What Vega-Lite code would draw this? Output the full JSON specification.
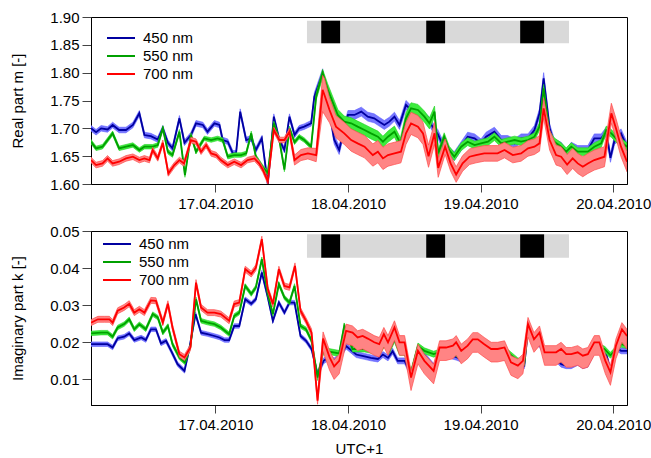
{
"$schema": "https://vega.github.io/schema/vega-lite/v6.json",
"padding": {"left": 10, "top": 9, "right": 0, "bottom": 0},
"spacing": 11,
"config": {
  "font": "Liberation Sans",
  "view": {"stroke": "#000", "strokeWidth": 1},
  "axis": {"grid": false, "labelFontSize": 15, "titleFontSize": 15, "titleFontWeight": "normal", "labelColor": "#000", "titleColor": "#000", "domainColor": "#000", "tickColor": "#444", "tickSize": 8},
  "axisX": {"labelPadding": 4, "titlePadding": 9},
  "axisY": {"labelPadding": 3, "titlePadding": 24, "tickSize": 9},
  "legend": {"title": null, "orient": "none", "symbolType": "M-2,0H2", "symbolSize": 196, "symbolStrokeWidth": 2, "labelFontSize": 15, "labelOffset": 14, "rowPadding": 2, "padding": 0, "labelColor": "#000"}
},
"resolve": {"scale": {"color": "independent"}, "legend": {"color": "independent"}},
"datasets": {
"bars": [
{"t":"2010-04-17T16:35","t2":"2010-04-19T16:00","kind":"period"},
{"t":"2010-04-17T19:10","t2":"2010-04-17T22:35","kind":"event"},
{"t":"2010-04-18T14:10","t2":"2010-04-18T17:35","kind":"event"},
{"t":"2010-04-19T07:10","t2":"2010-04-19T11:30","kind":"event"}
],
"m450": [
{"t":"2010-04-16T01:30","v":1.700,"lo":1.695,"hi":1.705},
{"t":"2010-04-16T02:25","v":1.693,"lo":1.688,"hi":1.698},
{"t":"2010-04-16T03:20","v":1.700,"lo":1.695,"hi":1.705},
{"t":"2010-04-16T04:30","v":1.698,"lo":1.693,"hi":1.703},
{"t":"2010-04-16T05:25","v":1.706,"lo":1.701,"hi":1.711},
{"t":"2010-04-16T06:35","v":1.697,"lo":1.692,"hi":1.702},
{"t":"2010-04-16T07:50","v":1.697,"lo":1.692,"hi":1.702},
{"t":"2010-04-16T09:05","v":1.706,"lo":1.701,"hi":1.711},
{"t":"2010-04-16T10:15","v":1.727,"lo":1.722,"hi":1.732},
{"t":"2010-04-16T11:10","v":1.688,"lo":1.683,"hi":1.693},
{"t":"2010-04-16T12:20","v":1.686,"lo":1.681,"hi":1.691},
{"t":"2010-04-16T13:35","v":1.680,"lo":1.675,"hi":1.685},
{"t":"2010-04-16T14:30","v":1.700,"lo":1.695,"hi":1.705},
{"t":"2010-04-16T15:25","v":1.674,"lo":1.669,"hi":1.679},
{"t":"2010-04-16T16:15","v":1.664,"lo":1.659,"hi":1.669},
{"t":"2010-04-16T17:30","v":1.718,"lo":1.713,"hi":1.723},
{"t":"2010-04-16T18:25","v":1.674,"lo":1.669,"hi":1.679},
{"t":"2010-04-16T19:35","v":1.688,"lo":1.683,"hi":1.693},
{"t":"2010-04-16T20:30","v":1.709,"lo":1.704,"hi":1.714},
{"t":"2010-04-16T21:45","v":1.706,"lo":1.701,"hi":1.711},
{"t":"2010-04-16T22:35","v":1.694,"lo":1.689,"hi":1.699},
{"t":"2010-04-16T23:50","v":1.709,"lo":1.704,"hi":1.714},
{"t":"2010-04-17T00:45","v":1.706,"lo":1.701,"hi":1.711},
{"t":"2010-04-17T01:20","v":1.679,"lo":1.674,"hi":1.684},
{"t":"2010-04-17T02:15","v":1.676,"lo":1.671,"hi":1.681},
{"t":"2010-04-17T03:10","v":1.655,"lo":1.650,"hi":1.660},
{"t":"2010-04-17T03:45","v":1.655,"lo":1.650,"hi":1.660},
{"t":"2010-04-17T04:30","v":1.730,"lo":1.725,"hi":1.735},
{"t":"2010-04-17T05:35","v":1.679,"lo":1.674,"hi":1.684},
{"t":"2010-04-17T06:30","v":1.682,"lo":1.677,"hi":1.687},
{"t":"2010-04-17T07:20","v":1.661,"lo":1.656,"hi":1.666},
{"t":"2010-04-17T08:25","v":1.682,"lo":1.677,"hi":1.687},
{"t":"2010-04-17T09:30","v":1.600,"lo":1.595,"hi":1.605},
{"t":"2010-04-17T10:35","v":1.721,"lo":1.716,"hi":1.726},
{"t":"2010-04-17T11:35","v":1.679,"lo":1.674,"hi":1.684},
{"t":"2010-04-17T12:30","v":1.661,"lo":1.656,"hi":1.666},
{"t":"2010-04-17T13:25","v":1.721,"lo":1.716,"hi":1.726},
{"t":"2010-04-17T14:20","v":1.688,"lo":1.683,"hi":1.693},
{"t":"2010-04-17T15:10","v":1.700,"lo":1.695,"hi":1.705},
{"t":"2010-04-17T16:05","v":1.703,"lo":1.698,"hi":1.708},
{"t":"2010-04-17T17:20","v":1.709,"lo":1.704,"hi":1.714},
{"t":"2010-04-17T17:55","v":1.757,"lo":1.750,"hi":1.764},
{"t":"2010-04-17T19:25","v":1.799,"lo":1.791,"hi":1.807},
{"t":"2010-04-17T20:20","v":1.750,"lo":1.742,"hi":1.758},
{"t":"2010-04-17T21:30","v":1.680,"lo":1.672,"hi":1.688},
{"t":"2010-04-17T22:25","v":1.661,"lo":1.653,"hi":1.669},
{"t":"2010-04-17T23:20","v":1.700,"lo":1.692,"hi":1.708},
{"t":"2010-04-18T00:00","v":1.724,"lo":1.716,"hi":1.732},
{"t":"2010-04-18T01:10","v":1.724,"lo":1.716,"hi":1.732},
{"t":"2010-04-18T02:25","v":1.730,"lo":1.722,"hi":1.738},
{"t":"2010-04-18T03:35","v":1.721,"lo":1.713,"hi":1.729},
{"t":"2010-04-18T04:45","v":1.718,"lo":1.710,"hi":1.726},
{"t":"2010-04-18T05:40","v":1.712,"lo":1.704,"hi":1.720},
{"t":"2010-04-18T06:35","v":1.706,"lo":1.698,"hi":1.714},
{"t":"2010-04-18T07:30","v":1.712,"lo":1.704,"hi":1.720},
{"t":"2010-04-18T08:25","v":1.721,"lo":1.713,"hi":1.729},
{"t":"2010-04-18T09:20","v":1.706,"lo":1.698,"hi":1.714},
{"t":"2010-04-18T10:30","v":1.742,"lo":1.734,"hi":1.750},
{"t":"2010-04-18T11:25","v":1.733,"lo":1.725,"hi":1.741},
{"t":"2010-04-18T12:40","v":1.730,"lo":1.722,"hi":1.738},
{"t":"2010-04-18T13:50","v":1.721,"lo":1.713,"hi":1.729},
{"t":"2010-04-18T14:45","v":1.712,"lo":1.704,"hi":1.720},
{"t":"2010-04-18T15:40","v":1.697,"lo":1.689,"hi":1.705},
{"t":"2010-04-18T16:15","v":1.690,"lo":1.682,"hi":1.698},
{"t":"2010-04-18T17:25","v":1.665,"lo":1.657,"hi":1.673},
{"t":"2010-04-18T19:15","v":1.650,"lo":1.642,"hi":1.658},
{"t":"2010-04-18T21:40","v":1.685,"lo":1.677,"hi":1.693},
{"t":"2010-04-18T22:55","v":1.682,"lo":1.674,"hi":1.690},
{"t":"2010-04-19T00:05","v":1.673,"lo":1.665,"hi":1.681},
{"t":"2010-04-19T01:00","v":1.685,"lo":1.677,"hi":1.693},
{"t":"2010-04-19T02:30","v":1.694,"lo":1.686,"hi":1.702},
{"t":"2010-04-19T03:45","v":1.679,"lo":1.671,"hi":1.687},
{"t":"2010-04-19T04:55","v":1.679,"lo":1.671,"hi":1.687},
{"t":"2010-04-19T06:10","v":1.673,"lo":1.665,"hi":1.681},
{"t":"2010-04-19T07:20","v":1.682,"lo":1.674,"hi":1.690},
{"t":"2010-04-19T08:35","v":1.682,"lo":1.674,"hi":1.690},
{"t":"2010-04-19T09:45","v":1.697,"lo":1.689,"hi":1.705},
{"t":"2010-04-19T10:40","v":1.727,"lo":1.719,"hi":1.735},
{"t":"2010-04-19T11:25","v":1.790,"lo":1.780,"hi":1.800},
{"t":"2010-04-19T12:30","v":1.700,"lo":1.692,"hi":1.708},
{"t":"2010-04-19T13:20","v":1.673,"lo":1.665,"hi":1.681},
{"t":"2010-04-19T14:35","v":1.667,"lo":1.659,"hi":1.675},
{"t":"2010-04-19T15:30","v":1.655,"lo":1.647,"hi":1.663},
{"t":"2010-04-19T16:25","v":1.667,"lo":1.659,"hi":1.675},
{"t":"2010-04-19T17:35","v":1.661,"lo":1.653,"hi":1.669},
{"t":"2010-04-19T19:25","v":1.661,"lo":1.653,"hi":1.669},
{"t":"2010-04-19T20:35","v":1.682,"lo":1.674,"hi":1.690},
{"t":"2010-04-19T21:50","v":1.682,"lo":1.674,"hi":1.690},
{"t":"2010-04-19T22:45","v":1.694,"lo":1.686,"hi":1.702},
{"t":"2010-04-19T23:30","v":1.647,"lo":1.639,"hi":1.655},
{"t":"2010-04-20T00:15","v":1.679,"lo":1.671,"hi":1.687},
{"t":"2010-04-20T01:25","v":1.691,"lo":1.683,"hi":1.699},
{"t":"2010-04-20T02:30","v":1.667,"lo":1.659,"hi":1.675}
],
"m550": [
{"t":"2010-04-16T01:30","v":1.676,"lo":1.672,"hi":1.680},
{"t":"2010-04-16T02:25","v":1.664,"lo":1.660,"hi":1.668},
{"t":"2010-04-16T03:35","v":1.667,"lo":1.663,"hi":1.671},
{"t":"2010-04-16T05:25","v":1.691,"lo":1.687,"hi":1.695},
{"t":"2010-04-16T06:35","v":1.664,"lo":1.660,"hi":1.668},
{"t":"2010-04-16T07:50","v":1.667,"lo":1.663,"hi":1.671},
{"t":"2010-04-16T09:05","v":1.670,"lo":1.666,"hi":1.674},
{"t":"2010-04-16T10:15","v":1.661,"lo":1.657,"hi":1.665},
{"t":"2010-04-16T11:10","v":1.667,"lo":1.663,"hi":1.671},
{"t":"2010-04-16T12:40","v":1.667,"lo":1.663,"hi":1.671},
{"t":"2010-04-16T13:35","v":1.670,"lo":1.666,"hi":1.674},
{"t":"2010-04-16T14:30","v":1.700,"lo":1.696,"hi":1.704},
{"t":"2010-04-16T15:25","v":1.658,"lo":1.654,"hi":1.662},
{"t":"2010-04-16T16:15","v":1.652,"lo":1.648,"hi":1.656},
{"t":"2010-04-16T17:30","v":1.694,"lo":1.690,"hi":1.698},
{"t":"2010-04-16T18:30","v":1.616,"lo":1.612,"hi":1.620},
{"t":"2010-04-16T19:35","v":1.688,"lo":1.684,"hi":1.692},
{"t":"2010-04-16T20:30","v":1.658,"lo":1.654,"hi":1.662},
{"t":"2010-04-16T22:00","v":1.682,"lo":1.678,"hi":1.686},
{"t":"2010-04-16T23:15","v":1.679,"lo":1.675,"hi":1.683},
{"t":"2010-04-17T00:25","v":1.682,"lo":1.678,"hi":1.686},
{"t":"2010-04-17T01:20","v":1.679,"lo":1.675,"hi":1.683},
{"t":"2010-04-17T02:15","v":1.649,"lo":1.645,"hi":1.653},
{"t":"2010-04-17T03:25","v":1.652,"lo":1.648,"hi":1.656},
{"t":"2010-04-17T04:40","v":1.652,"lo":1.648,"hi":1.656},
{"t":"2010-04-17T05:35","v":1.655,"lo":1.651,"hi":1.659},
{"t":"2010-04-17T06:30","v":1.691,"lo":1.687,"hi":1.695},
{"t":"2010-04-17T07:20","v":1.649,"lo":1.645,"hi":1.653},
{"t":"2010-04-17T08:35","v":1.630,"lo":1.626,"hi":1.634},
{"t":"2010-04-17T09:30","v":1.620,"lo":1.616,"hi":1.624},
{"t":"2010-04-17T10:35","v":1.709,"lo":1.705,"hi":1.713},
{"t":"2010-04-17T11:35","v":1.679,"lo":1.675,"hi":1.683},
{"t":"2010-04-17T12:30","v":1.626,"lo":1.622,"hi":1.630},
{"t":"2010-04-17T13:25","v":1.700,"lo":1.696,"hi":1.704},
{"t":"2010-04-17T14:20","v":1.675,"lo":1.671,"hi":1.679},
{"t":"2010-04-17T15:10","v":1.685,"lo":1.681,"hi":1.689},
{"t":"2010-04-17T16:05","v":1.679,"lo":1.675,"hi":1.683},
{"t":"2010-04-17T17:20","v":1.667,"lo":1.663,"hi":1.671},
{"t":"2010-04-17T18:15","v":1.757,"lo":1.751,"hi":1.763},
{"t":"2010-04-17T19:25","v":1.800,"lo":1.790,"hi":1.806},
{"t":"2010-04-17T20:20","v":1.770,"lo":1.760,"hi":1.780},
{"t":"2010-04-17T22:10","v":1.724,"lo":1.714,"hi":1.734},
{"t":"2010-04-17T23:20","v":1.712,"lo":1.702,"hi":1.722},
{"t":"2010-04-18T00:35","v":1.709,"lo":1.699,"hi":1.719},
{"t":"2010-04-18T01:45","v":1.703,"lo":1.693,"hi":1.713},
{"t":"2010-04-18T03:00","v":1.697,"lo":1.687,"hi":1.707},
{"t":"2010-04-18T04:10","v":1.691,"lo":1.681,"hi":1.701},
{"t":"2010-04-18T05:25","v":1.685,"lo":1.675,"hi":1.695},
{"t":"2010-04-18T06:20","v":1.676,"lo":1.666,"hi":1.686},
{"t":"2010-04-18T07:15","v":1.685,"lo":1.675,"hi":1.695},
{"t":"2010-04-18T08:25","v":1.694,"lo":1.684,"hi":1.704},
{"t":"2010-04-18T09:30","v":1.673,"lo":1.663,"hi":1.683},
{"t":"2010-04-18T10:30","v":1.718,"lo":1.708,"hi":1.728},
{"t":"2010-04-18T11:25","v":1.736,"lo":1.726,"hi":1.746},
{"t":"2010-04-18T12:40","v":1.733,"lo":1.723,"hi":1.743},
{"t":"2010-04-18T13:50","v":1.721,"lo":1.711,"hi":1.731},
{"t":"2010-04-18T14:45","v":1.709,"lo":1.699,"hi":1.719},
{"t":"2010-04-18T15:40","v":1.730,"lo":1.720,"hi":1.740},
{"t":"2010-04-18T16:20","v":1.655,"lo":1.648,"hi":1.662},
{"t":"2010-04-18T17:25","v":1.685,"lo":1.678,"hi":1.692},
{"t":"2010-04-18T18:20","v":1.661,"lo":1.654,"hi":1.668},
{"t":"2010-04-18T19:15","v":1.649,"lo":1.642,"hi":1.656},
{"t":"2010-04-18T20:30","v":1.667,"lo":1.660,"hi":1.674},
{"t":"2010-04-18T21:40","v":1.676,"lo":1.669,"hi":1.683},
{"t":"2010-04-18T22:55","v":1.670,"lo":1.663,"hi":1.677},
{"t":"2010-04-19T00:05","v":1.673,"lo":1.666,"hi":1.680},
{"t":"2010-04-19T01:20","v":1.676,"lo":1.669,"hi":1.683},
{"t":"2010-04-19T02:30","v":1.685,"lo":1.678,"hi":1.692},
{"t":"2010-04-19T03:45","v":1.673,"lo":1.666,"hi":1.680},
{"t":"2010-04-19T04:55","v":1.676,"lo":1.669,"hi":1.683},
{"t":"2010-04-19T06:10","v":1.679,"lo":1.672,"hi":1.686},
{"t":"2010-04-19T07:20","v":1.676,"lo":1.669,"hi":1.683},
{"t":"2010-04-19T08:35","v":1.679,"lo":1.672,"hi":1.686},
{"t":"2010-04-19T09:45","v":1.685,"lo":1.678,"hi":1.692},
{"t":"2010-04-19T10:40","v":1.703,"lo":1.696,"hi":1.710},
{"t":"2010-04-19T11:25","v":1.772,"lo":1.765,"hi":1.779},
{"t":"2010-04-19T12:30","v":1.688,"lo":1.681,"hi":1.695},
{"t":"2010-04-19T13:20","v":1.676,"lo":1.669,"hi":1.683},
{"t":"2010-04-19T14:35","v":1.667,"lo":1.660,"hi":1.674},
{"t":"2010-04-19T15:30","v":1.658,"lo":1.651,"hi":1.665},
{"t":"2010-04-19T16:25","v":1.667,"lo":1.660,"hi":1.674},
{"t":"2010-04-19T17:35","v":1.658,"lo":1.651,"hi":1.665},
{"t":"2010-04-19T19:25","v":1.658,"lo":1.651,"hi":1.665},
{"t":"2010-04-19T20:35","v":1.667,"lo":1.660,"hi":1.674},
{"t":"2010-04-19T21:50","v":1.673,"lo":1.666,"hi":1.680},
{"t":"2010-04-19T22:45","v":1.697,"lo":1.690,"hi":1.704},
{"t":"2010-04-19T23:40","v":1.691,"lo":1.684,"hi":1.698},
{"t":"2010-04-20T00:30","v":1.682,"lo":1.675,"hi":1.689},
{"t":"2010-04-20T02:30","v":1.667,"lo":1.660,"hi":1.674}
],
"m700": [
{"t":"2010-04-16T01:30","v":1.643,"lo":1.638,"hi":1.648},
{"t":"2010-04-16T02:25","v":1.634,"lo":1.629,"hi":1.639},
{"t":"2010-04-16T03:35","v":1.637,"lo":1.632,"hi":1.642},
{"t":"2010-04-16T04:30","v":1.646,"lo":1.641,"hi":1.651},
{"t":"2010-04-16T05:25","v":1.637,"lo":1.632,"hi":1.642},
{"t":"2010-04-16T06:35","v":1.640,"lo":1.635,"hi":1.645},
{"t":"2010-04-16T07:50","v":1.646,"lo":1.641,"hi":1.651},
{"t":"2010-04-16T09:05","v":1.649,"lo":1.644,"hi":1.654},
{"t":"2010-04-16T10:15","v":1.643,"lo":1.638,"hi":1.648},
{"t":"2010-04-16T11:10","v":1.646,"lo":1.641,"hi":1.651},
{"t":"2010-04-16T12:05","v":1.643,"lo":1.638,"hi":1.648},
{"t":"2010-04-16T12:40","v":1.661,"lo":1.656,"hi":1.666},
{"t":"2010-04-16T13:35","v":1.646,"lo":1.641,"hi":1.651},
{"t":"2010-04-16T14:30","v":1.674,"lo":1.669,"hi":1.679},
{"t":"2010-04-16T15:30","v":1.619,"lo":1.614,"hi":1.624},
{"t":"2010-04-16T16:35","v":1.634,"lo":1.629,"hi":1.639},
{"t":"2010-04-16T17:30","v":1.643,"lo":1.638,"hi":1.648},
{"t":"2010-04-16T18:20","v":1.637,"lo":1.632,"hi":1.642},
{"t":"2010-04-16T19:35","v":1.679,"lo":1.674,"hi":1.684},
{"t":"2010-04-16T20:30","v":1.676,"lo":1.671,"hi":1.681},
{"t":"2010-04-16T21:25","v":1.658,"lo":1.653,"hi":1.663},
{"t":"2010-04-16T22:20","v":1.670,"lo":1.665,"hi":1.675},
{"t":"2010-04-16T23:15","v":1.655,"lo":1.650,"hi":1.660},
{"t":"2010-04-17T00:10","v":1.652,"lo":1.647,"hi":1.657},
{"t":"2010-04-17T01:00","v":1.643,"lo":1.638,"hi":1.648},
{"t":"2010-04-17T02:15","v":1.634,"lo":1.629,"hi":1.639},
{"t":"2010-04-17T03:25","v":1.640,"lo":1.635,"hi":1.645},
{"t":"2010-04-17T04:40","v":1.634,"lo":1.629,"hi":1.639},
{"t":"2010-04-17T05:50","v":1.643,"lo":1.638,"hi":1.648},
{"t":"2010-04-17T07:05","v":1.646,"lo":1.641,"hi":1.651},
{"t":"2010-04-17T07:55","v":1.637,"lo":1.632,"hi":1.642},
{"t":"2010-04-17T08:35","v":1.626,"lo":1.621,"hi":1.631},
{"t":"2010-04-17T09:30","v":1.605,"lo":1.600,"hi":1.610},
{"t":"2010-04-17T10:35","v":1.697,"lo":1.692,"hi":1.702},
{"t":"2010-04-17T11:35","v":1.679,"lo":1.674,"hi":1.684},
{"t":"2010-04-17T12:30","v":1.679,"lo":1.674,"hi":1.684},
{"t":"2010-04-17T13:25","v":1.694,"lo":1.688,"hi":1.700},
{"t":"2010-04-17T14:20","v":1.643,"lo":1.634,"hi":1.652},
{"t":"2010-04-17T15:30","v":1.652,"lo":1.642,"hi":1.662},
{"t":"2010-04-17T16:45","v":1.655,"lo":1.645,"hi":1.665},
{"t":"2010-04-17T18:15","v":1.652,"lo":1.640,"hi":1.664},
{"t":"2010-04-17T19:25","v":1.769,"lo":1.730,"hi":1.795},
{"t":"2010-04-17T19:45","v":1.760,"lo":1.725,"hi":1.790},
{"t":"2010-04-17T20:40","v":1.733,"lo":1.710,"hi":1.755},
{"t":"2010-04-17T21:50","v":1.703,"lo":1.683,"hi":1.723},
{"t":"2010-04-17T23:20","v":1.691,"lo":1.671,"hi":1.711},
{"t":"2010-04-18T00:35","v":1.679,"lo":1.659,"hi":1.699},
{"t":"2010-04-18T01:45","v":1.673,"lo":1.653,"hi":1.693},
{"t":"2010-04-18T03:00","v":1.667,"lo":1.647,"hi":1.687},
{"t":"2010-04-18T04:30","v":1.652,"lo":1.632,"hi":1.672},
{"t":"2010-04-18T05:25","v":1.658,"lo":1.638,"hi":1.678},
{"t":"2010-04-18T06:20","v":1.646,"lo":1.626,"hi":1.666},
{"t":"2010-04-18T07:15","v":1.652,"lo":1.632,"hi":1.672},
{"t":"2010-04-18T08:25","v":1.655,"lo":1.635,"hi":1.675},
{"t":"2010-04-18T09:35","v":1.658,"lo":1.638,"hi":1.678},
{"t":"2010-04-18T10:30","v":1.691,"lo":1.671,"hi":1.711},
{"t":"2010-04-18T11:25","v":1.709,"lo":1.689,"hi":1.729},
{"t":"2010-04-18T12:40","v":1.703,"lo":1.683,"hi":1.723},
{"t":"2010-04-18T13:35","v":1.691,"lo":1.671,"hi":1.711},
{"t":"2010-04-18T14:35","v":1.650,"lo":1.630,"hi":1.670},
{"t":"2010-04-18T15:40","v":1.691,"lo":1.671,"hi":1.711},
{"t":"2010-04-18T16:20","v":1.629,"lo":1.612,"hi":1.646},
{"t":"2010-04-18T17:35","v":1.667,"lo":1.653,"hi":1.681},
{"t":"2010-04-18T18:35","v":1.637,"lo":1.623,"hi":1.651},
{"t":"2010-04-18T19:35","v":1.617,"lo":1.603,"hi":1.631},
{"t":"2010-04-18T20:45","v":1.637,"lo":1.623,"hi":1.651},
{"t":"2010-04-18T22:00","v":1.649,"lo":1.635,"hi":1.663},
{"t":"2010-04-18T23:10","v":1.652,"lo":1.638,"hi":1.666},
{"t":"2010-04-19T00:40","v":1.655,"lo":1.641,"hi":1.669},
{"t":"2010-04-19T01:55","v":1.655,"lo":1.641,"hi":1.669},
{"t":"2010-04-19T03:05","v":1.655,"lo":1.641,"hi":1.669},
{"t":"2010-04-19T04:20","v":1.661,"lo":1.647,"hi":1.675},
{"t":"2010-04-19T05:50","v":1.652,"lo":1.638,"hi":1.666},
{"t":"2010-04-19T07:20","v":1.655,"lo":1.641,"hi":1.669},
{"t":"2010-04-19T08:35","v":1.664,"lo":1.650,"hi":1.678},
{"t":"2010-04-19T09:45","v":1.667,"lo":1.653,"hi":1.681},
{"t":"2010-04-19T10:40","v":1.673,"lo":1.659,"hi":1.687},
{"t":"2010-04-19T11:25","v":1.736,"lo":1.718,"hi":1.754},
{"t":"2010-04-19T12:30","v":1.679,"lo":1.661,"hi":1.697},
{"t":"2010-04-19T13:40","v":1.652,"lo":1.634,"hi":1.670},
{"t":"2010-04-19T14:35","v":1.649,"lo":1.631,"hi":1.667},
{"t":"2010-04-19T15:40","v":1.635,"lo":1.617,"hi":1.653},
{"t":"2010-04-19T16:40","v":1.646,"lo":1.628,"hi":1.664},
{"t":"2010-04-19T17:35","v":1.637,"lo":1.619,"hi":1.655},
{"t":"2010-04-19T18:30","v":1.631,"lo":1.613,"hi":1.649},
{"t":"2010-04-19T19:25","v":1.637,"lo":1.619,"hi":1.655},
{"t":"2010-04-19T20:35","v":1.643,"lo":1.625,"hi":1.661},
{"t":"2010-04-19T22:25","v":1.649,"lo":1.631,"hi":1.667},
{"t":"2010-04-19T23:40","v":1.727,"lo":1.709,"hi":1.745},
{"t":"2010-04-20T00:30","v":1.700,"lo":1.682,"hi":1.718},
{"t":"2010-04-20T01:25","v":1.667,"lo":1.649,"hi":1.685},
{"t":"2010-04-20T02:30","v":1.640,"lo":1.622,"hi":1.658}
],
"k450": [
{"t":"2010-04-16T01:30","v":0.0195,"lo":0.0189,"hi":0.0201},
{"t":"2010-04-16T03:20","v":0.0195,"lo":0.0189,"hi":0.0201},
{"t":"2010-04-16T04:30","v":0.0195,"lo":0.0189,"hi":0.0201},
{"t":"2010-04-16T05:25","v":0.0186,"lo":0.0180,"hi":0.0192},
{"t":"2010-04-16T06:20","v":0.0211,"lo":0.0205,"hi":0.0217},
{"t":"2010-04-16T07:30","v":0.0215,"lo":0.0209,"hi":0.0221},
{"t":"2010-04-16T08:25","v":0.0224,"lo":0.0218,"hi":0.0230},
{"t":"2010-04-16T09:20","v":0.0206,"lo":0.0200,"hi":0.0212},
{"t":"2010-04-16T10:35","v":0.0213,"lo":0.0207,"hi":0.0219},
{"t":"2010-04-16T11:25","v":0.0206,"lo":0.0200,"hi":0.0212},
{"t":"2010-04-16T12:20","v":0.0235,"lo":0.0229,"hi":0.0241},
{"t":"2010-04-16T13:15","v":0.0235,"lo":0.0229,"hi":0.0241},
{"t":"2010-04-16T14:10","v":0.0197,"lo":0.0191,"hi":0.0203},
{"t":"2010-04-16T15:05","v":0.0204,"lo":0.0198,"hi":0.0210},
{"t":"2010-04-16T16:00","v":0.0177,"lo":0.0171,"hi":0.0183},
{"t":"2010-04-16T17:10","v":0.0141,"lo":0.0135,"hi":0.0147},
{"t":"2010-04-16T18:25","v":0.0123,"lo":0.0117,"hi":0.0129},
{"t":"2010-04-16T19:20","v":0.0186,"lo":0.0180,"hi":0.0192},
{"t":"2010-04-16T20:25","v":0.0276,"lo":0.0270,"hi":0.0282},
{"t":"2010-04-16T21:25","v":0.0226,"lo":0.0220,"hi":0.0232},
{"t":"2010-04-16T22:35","v":0.0222,"lo":0.0216,"hi":0.0228},
{"t":"2010-04-16T23:50","v":0.0217,"lo":0.0211,"hi":0.0223},
{"t":"2010-04-17T00:45","v":0.0213,"lo":0.0207,"hi":0.0219},
{"t":"2010-04-17T01:40","v":0.0206,"lo":0.0200,"hi":0.0212},
{"t":"2010-04-17T02:30","v":0.0206,"lo":0.0200,"hi":0.0212},
{"t":"2010-04-17T03:25","v":0.0244,"lo":0.0238,"hi":0.0250},
{"t":"2010-04-17T04:20","v":0.0244,"lo":0.0238,"hi":0.0250},
{"t":"2010-04-17T05:25","v":0.0316,"lo":0.0310,"hi":0.0322},
{"t":"2010-04-17T06:30","v":0.0304,"lo":0.0298,"hi":0.0310},
{"t":"2010-04-17T07:20","v":0.0316,"lo":0.0310,"hi":0.0322},
{"t":"2010-04-17T08:25","v":0.0388,"lo":0.0382,"hi":0.0394},
{"t":"2010-04-17T09:30","v":0.0321,"lo":0.0315,"hi":0.0327},
{"t":"2010-04-17T10:25","v":0.0258,"lo":0.0252,"hi":0.0264},
{"t":"2010-04-17T11:30","v":0.0307,"lo":0.0301,"hi":0.0313},
{"t":"2010-04-17T12:30","v":0.0280,"lo":0.0274,"hi":0.0286},
{"t":"2010-04-17T13:25","v":0.0307,"lo":0.0301,"hi":0.0313},
{"t":"2010-04-17T14:20","v":0.0307,"lo":0.0301,"hi":0.0313},
{"t":"2010-04-17T15:25","v":0.0217,"lo":0.0211,"hi":0.0223},
{"t":"2010-04-17T16:25","v":0.0204,"lo":0.0198,"hi":0.0210},
{"t":"2010-04-17T17:25","v":0.0182,"lo":0.0176,"hi":0.0188},
{"t":"2010-04-17T18:30","v":0.0114,"lo":0.0106,"hi":0.0122},
{"t":"2010-04-17T19:35","v":0.0150,"lo":0.0142,"hi":0.0158},
{"t":"2010-04-17T20:35","v":0.0160,"lo":0.0152,"hi":0.0168},
{"t":"2010-04-17T21:30","v":0.0150,"lo":0.0142,"hi":0.0158},
{"t":"2010-04-17T22:25","v":0.0160,"lo":0.0152,"hi":0.0168},
{"t":"2010-04-17T23:40","v":0.0190,"lo":0.0182,"hi":0.0198},
{"t":"2010-04-18T01:30","v":0.0167,"lo":0.0159,"hi":0.0175},
{"t":"2010-04-18T03:00","v":0.0162,"lo":0.0154,"hi":0.0170},
{"t":"2010-04-18T04:10","v":0.0158,"lo":0.0150,"hi":0.0166},
{"t":"2010-04-18T05:25","v":0.0155,"lo":0.0147,"hi":0.0163},
{"t":"2010-04-18T06:20","v":0.0167,"lo":0.0159,"hi":0.0175},
{"t":"2010-04-18T07:15","v":0.0158,"lo":0.0150,"hi":0.0166},
{"t":"2010-04-18T08:05","v":0.0176,"lo":0.0168,"hi":0.0184},
{"t":"2010-04-18T09:00","v":0.0150,"lo":0.0142,"hi":0.0158},
{"t":"2010-04-18T10:15","v":0.0150,"lo":0.0142,"hi":0.0158},
{"t":"2010-04-18T11:25","v":0.0114,"lo":0.0106,"hi":0.0122},
{"t":"2010-04-18T12:40","v":0.0180,"lo":0.0172,"hi":0.0188},
{"t":"2010-04-18T13:50","v":0.0165,"lo":0.0157,"hi":0.0173},
{"t":"2010-04-18T15:30","v":0.0135,"lo":0.0127,"hi":0.0143},
{"t":"2010-04-18T16:35","v":0.0164,"lo":0.0156,"hi":0.0172},
{"t":"2010-04-18T18:40","v":0.0164,"lo":0.0156,"hi":0.0172},
{"t":"2010-04-18T19:35","v":0.0160,"lo":0.0152,"hi":0.0168},
{"t":"2010-04-18T20:30","v":0.0155,"lo":0.0147,"hi":0.0163},
{"t":"2010-04-18T21:40","v":0.0185,"lo":0.0177,"hi":0.0193},
{"t":"2010-04-18T22:35","v":0.0195,"lo":0.0187,"hi":0.0203},
{"t":"2010-04-19T00:40","v":0.0180,"lo":0.0172,"hi":0.0188},
{"t":"2010-04-19T01:55","v":0.0160,"lo":0.0152,"hi":0.0168},
{"t":"2010-04-19T04:20","v":0.0160,"lo":0.0152,"hi":0.0168},
{"t":"2010-04-19T05:30","v":0.0160,"lo":0.0152,"hi":0.0168},
{"t":"2010-04-19T06:45","v":0.0146,"lo":0.0138,"hi":0.0154},
{"t":"2010-04-19T07:55","v":0.0137,"lo":0.0129,"hi":0.0145},
{"t":"2010-04-19T08:35","v":0.0235,"lo":0.0227,"hi":0.0243},
{"t":"2010-04-19T09:40","v":0.0200,"lo":0.0192,"hi":0.0208},
{"t":"2010-04-19T10:40","v":0.0195,"lo":0.0187,"hi":0.0203},
{"t":"2010-04-19T11:35","v":0.0170,"lo":0.0162,"hi":0.0178},
{"t":"2010-04-19T13:20","v":0.0159,"lo":0.0151,"hi":0.0167},
{"t":"2010-04-19T14:35","v":0.0141,"lo":0.0133,"hi":0.0149},
{"t":"2010-04-19T15:30","v":0.0137,"lo":0.0129,"hi":0.0145},
{"t":"2010-04-19T16:25","v":0.0137,"lo":0.0129,"hi":0.0145},
{"t":"2010-04-19T17:35","v":0.0146,"lo":0.0138,"hi":0.0154},
{"t":"2010-04-19T18:30","v":0.0137,"lo":0.0129,"hi":0.0145},
{"t":"2010-04-19T19:25","v":0.0141,"lo":0.0133,"hi":0.0149},
{"t":"2010-04-19T20:35","v":0.0177,"lo":0.0169,"hi":0.0185},
{"t":"2010-04-19T21:30","v":0.0177,"lo":0.0169,"hi":0.0185},
{"t":"2010-04-19T22:35","v":0.0177,"lo":0.0169,"hi":0.0185},
{"t":"2010-04-19T23:30","v":0.0125,"lo":0.0117,"hi":0.0133},
{"t":"2010-04-20T00:30","v":0.0186,"lo":0.0178,"hi":0.0194},
{"t":"2010-04-20T01:25","v":0.0177,"lo":0.0169,"hi":0.0185},
{"t":"2010-04-20T02:30","v":0.0177,"lo":0.0169,"hi":0.0185}
],
"k550": [
{"t":"2010-04-16T01:30","v":0.0224,"lo":0.0218,"hi":0.0230},
{"t":"2010-04-16T03:20","v":0.0226,"lo":0.0220,"hi":0.0232},
{"t":"2010-04-16T04:30","v":0.0226,"lo":0.0220,"hi":0.0232},
{"t":"2010-04-16T05:25","v":0.0215,"lo":0.0209,"hi":0.0221},
{"t":"2010-04-16T06:20","v":0.0240,"lo":0.0234,"hi":0.0246},
{"t":"2010-04-16T07:30","v":0.0249,"lo":0.0243,"hi":0.0255},
{"t":"2010-04-16T08:25","v":0.0262,"lo":0.0256,"hi":0.0268},
{"t":"2010-04-16T09:20","v":0.0235,"lo":0.0229,"hi":0.0241},
{"t":"2010-04-16T10:15","v":0.0249,"lo":0.0243,"hi":0.0255},
{"t":"2010-04-16T11:25","v":0.0235,"lo":0.0229,"hi":0.0241},
{"t":"2010-04-16T12:40","v":0.0276,"lo":0.0270,"hi":0.0282},
{"t":"2010-04-16T13:35","v":0.0267,"lo":0.0261,"hi":0.0273},
{"t":"2010-04-16T14:30","v":0.0226,"lo":0.0220,"hi":0.0232},
{"t":"2010-04-16T15:25","v":0.0244,"lo":0.0238,"hi":0.0250},
{"t":"2010-04-16T16:15","v":0.0195,"lo":0.0189,"hi":0.0201},
{"t":"2010-04-16T17:30","v":0.0159,"lo":0.0153,"hi":0.0165},
{"t":"2010-04-16T18:30","v":0.0146,"lo":0.0140,"hi":0.0152},
{"t":"2010-04-16T19:30","v":0.0190,"lo":0.0184,"hi":0.0196},
{"t":"2010-04-16T20:30","v":0.0316,"lo":0.0310,"hi":0.0322},
{"t":"2010-04-16T21:25","v":0.0258,"lo":0.0252,"hi":0.0264},
{"t":"2010-04-16T22:35","v":0.0253,"lo":0.0247,"hi":0.0259},
{"t":"2010-04-16T23:50","v":0.0249,"lo":0.0243,"hi":0.0255},
{"t":"2010-04-17T01:00","v":0.0240,"lo":0.0234,"hi":0.0246},
{"t":"2010-04-17T02:30","v":0.0222,"lo":0.0216,"hi":0.0228},
{"t":"2010-04-17T03:25","v":0.0271,"lo":0.0265,"hi":0.0277},
{"t":"2010-04-17T04:20","v":0.0280,"lo":0.0274,"hi":0.0286},
{"t":"2010-04-17T05:25","v":0.0352,"lo":0.0346,"hi":0.0358},
{"t":"2010-04-17T06:30","v":0.0330,"lo":0.0324,"hi":0.0336},
{"t":"2010-04-17T07:20","v":0.0348,"lo":0.0342,"hi":0.0354},
{"t":"2010-04-17T08:25","v":0.0424,"lo":0.0418,"hi":0.0430},
{"t":"2010-04-17T09:30","v":0.0330,"lo":0.0324,"hi":0.0336},
{"t":"2010-04-17T10:25","v":0.0276,"lo":0.0270,"hi":0.0282},
{"t":"2010-04-17T11:30","v":0.0357,"lo":0.0351,"hi":0.0363},
{"t":"2010-04-17T12:30","v":0.0321,"lo":0.0315,"hi":0.0327},
{"t":"2010-04-17T13:25","v":0.0307,"lo":0.0301,"hi":0.0313},
{"t":"2010-04-17T14:20","v":0.0352,"lo":0.0346,"hi":0.0358},
{"t":"2010-04-17T15:25","v":0.0244,"lo":0.0238,"hi":0.0250},
{"t":"2010-04-17T16:25","v":0.0235,"lo":0.0229,"hi":0.0241},
{"t":"2010-04-17T17:25","v":0.0204,"lo":0.0198,"hi":0.0210},
{"t":"2010-04-17T18:30","v":0.0105,"lo":0.0097,"hi":0.0113},
{"t":"2010-04-17T19:35","v":0.0180,"lo":0.0172,"hi":0.0188},
{"t":"2010-04-17T20:35","v":0.0175,"lo":0.0167,"hi":0.0183},
{"t":"2010-04-17T22:25","v":0.0170,"lo":0.0162,"hi":0.0178},
{"t":"2010-04-17T23:20","v":0.0244,"lo":0.0236,"hi":0.0252},
{"t":"2010-04-18T00:50","v":0.0182,"lo":0.0174,"hi":0.0190},
{"t":"2010-04-18T03:00","v":0.0182,"lo":0.0174,"hi":0.0190},
{"t":"2010-04-18T04:45","v":0.0177,"lo":0.0169,"hi":0.0185},
{"t":"2010-04-18T05:40","v":0.0173,"lo":0.0165,"hi":0.0181},
{"t":"2010-04-18T06:35","v":0.0195,"lo":0.0187,"hi":0.0203},
{"t":"2010-04-18T07:30","v":0.0177,"lo":0.0169,"hi":0.0185},
{"t":"2010-04-18T08:25","v":0.0208,"lo":0.0200,"hi":0.0216},
{"t":"2010-04-18T09:20","v":0.0173,"lo":0.0165,"hi":0.0181},
{"t":"2010-04-18T10:15","v":0.0173,"lo":0.0165,"hi":0.0181},
{"t":"2010-04-18T11:25","v":0.0118,"lo":0.0110,"hi":0.0126},
{"t":"2010-04-18T12:40","v":0.0190,"lo":0.0182,"hi":0.0198},
{"t":"2010-04-18T13:50","v":0.0177,"lo":0.0169,"hi":0.0185},
{"t":"2010-04-18T15:30","v":0.0168,"lo":0.0160,"hi":0.0176},
{"t":"2010-04-18T16:35","v":0.0173,"lo":0.0165,"hi":0.0181},
{"t":"2010-04-18T19:15","v":0.0173,"lo":0.0165,"hi":0.0181},
{"t":"2010-04-18T20:30","v":0.0160,"lo":0.0152,"hi":0.0168},
{"t":"2010-04-18T22:35","v":0.0195,"lo":0.0187,"hi":0.0203},
{"t":"2010-04-19T01:20","v":0.0182,"lo":0.0174,"hi":0.0190},
{"t":"2010-04-19T04:55","v":0.0173,"lo":0.0165,"hi":0.0181},
{"t":"2010-04-19T06:45","v":0.0150,"lo":0.0142,"hi":0.0158},
{"t":"2010-04-19T07:55","v":0.0145,"lo":0.0137,"hi":0.0153},
{"t":"2010-04-19T08:35","v":0.0240,"lo":0.0232,"hi":0.0248},
{"t":"2010-04-19T09:40","v":0.0205,"lo":0.0197,"hi":0.0213},
{"t":"2010-04-19T10:40","v":0.0220,"lo":0.0212,"hi":0.0228},
{"t":"2010-04-19T11:35","v":0.0170,"lo":0.0162,"hi":0.0178},
{"t":"2010-04-19T13:20","v":0.0155,"lo":0.0147,"hi":0.0163},
{"t":"2010-04-19T15:50","v":0.0155,"lo":0.0147,"hi":0.0163},
{"t":"2010-04-19T19:25","v":0.0150,"lo":0.0142,"hi":0.0158},
{"t":"2010-04-19T20:35","v":0.0190,"lo":0.0182,"hi":0.0198},
{"t":"2010-04-19T22:25","v":0.0182,"lo":0.0174,"hi":0.0190},
{"t":"2010-04-19T23:30","v":0.0165,"lo":0.0157,"hi":0.0173},
{"t":"2010-04-20T01:25","v":0.0195,"lo":0.0187,"hi":0.0203},
{"t":"2010-04-20T02:30","v":0.0191,"lo":0.0183,"hi":0.0199}
],
"k700": [
{"t":"2010-04-16T01:30","v":0.0253,"lo":0.0245,"hi":0.0261},
{"t":"2010-04-16T02:45","v":0.0262,"lo":0.0254,"hi":0.0270},
{"t":"2010-04-16T03:55","v":0.0262,"lo":0.0254,"hi":0.0270},
{"t":"2010-04-16T04:50","v":0.0262,"lo":0.0254,"hi":0.0270},
{"t":"2010-04-16T05:25","v":0.0253,"lo":0.0245,"hi":0.0261},
{"t":"2010-04-16T06:20","v":0.0285,"lo":0.0277,"hi":0.0293},
{"t":"2010-04-16T07:30","v":0.0294,"lo":0.0286,"hi":0.0302},
{"t":"2010-04-16T08:25","v":0.0304,"lo":0.0296,"hi":0.0312},
{"t":"2010-04-16T09:20","v":0.0280,"lo":0.0272,"hi":0.0288},
{"t":"2010-04-16T10:15","v":0.0289,"lo":0.0281,"hi":0.0297},
{"t":"2010-04-16T11:10","v":0.0280,"lo":0.0272,"hi":0.0288},
{"t":"2010-04-16T12:20","v":0.0313,"lo":0.0305,"hi":0.0321},
{"t":"2010-04-16T13:15","v":0.0312,"lo":0.0304,"hi":0.0320},
{"t":"2010-04-16T14:30","v":0.0253,"lo":0.0245,"hi":0.0261},
{"t":"2010-04-16T15:25","v":0.0304,"lo":0.0296,"hi":0.0312},
{"t":"2010-04-16T16:15","v":0.0240,"lo":0.0232,"hi":0.0248},
{"t":"2010-04-16T17:30","v":0.0168,"lo":0.0160,"hi":0.0176},
{"t":"2010-04-16T18:25","v":0.0159,"lo":0.0151,"hi":0.0167},
{"t":"2010-04-16T19:30","v":0.0186,"lo":0.0178,"hi":0.0194},
{"t":"2010-04-16T20:30","v":0.0361,"lo":0.0353,"hi":0.0369},
{"t":"2010-04-16T21:25","v":0.0294,"lo":0.0286,"hi":0.0302},
{"t":"2010-04-16T22:35","v":0.0280,"lo":0.0272,"hi":0.0288},
{"t":"2010-04-16T23:50","v":0.0280,"lo":0.0272,"hi":0.0288},
{"t":"2010-04-17T01:00","v":0.0276,"lo":0.0268,"hi":0.0284},
{"t":"2010-04-17T02:30","v":0.0258,"lo":0.0250,"hi":0.0266},
{"t":"2010-04-17T03:25","v":0.0303,"lo":0.0295,"hi":0.0311},
{"t":"2010-04-17T04:20","v":0.0307,"lo":0.0299,"hi":0.0315},
{"t":"2010-04-17T05:25","v":0.0397,"lo":0.0389,"hi":0.0405},
{"t":"2010-04-17T06:30","v":0.0384,"lo":0.0376,"hi":0.0392},
{"t":"2010-04-17T07:20","v":0.0401,"lo":0.0393,"hi":0.0409},
{"t":"2010-04-17T08:25","v":0.0478,"lo":0.0470,"hi":0.0486},
{"t":"2010-04-17T09:30","v":0.0343,"lo":0.0335,"hi":0.0351},
{"t":"2010-04-17T10:25","v":0.0303,"lo":0.0295,"hi":0.0311},
{"t":"2010-04-17T11:30","v":0.0397,"lo":0.0389,"hi":0.0405},
{"t":"2010-04-17T12:30","v":0.0352,"lo":0.0344,"hi":0.0360},
{"t":"2010-04-17T13:25","v":0.0348,"lo":0.0340,"hi":0.0356},
{"t":"2010-04-17T14:25","v":0.0406,"lo":0.0398,"hi":0.0414},
{"t":"2010-04-17T15:25","v":0.0285,"lo":0.0277,"hi":0.0293},
{"t":"2010-04-17T16:25","v":0.0258,"lo":0.0250,"hi":0.0266},
{"t":"2010-04-17T17:25","v":0.0226,"lo":0.0216,"hi":0.0236},
{"t":"2010-04-17T18:30","v":0.0043,"lo":0.0033,"hi":0.0055},
{"t":"2010-04-17T19:30","v":0.0210,"lo":0.0175,"hi":0.0228},
{"t":"2010-04-17T20:40","v":0.0160,"lo":0.0125,"hi":0.0178},
{"t":"2010-04-17T21:30","v":0.0135,"lo":0.0100,"hi":0.0153},
{"t":"2010-04-17T22:25","v":0.0150,"lo":0.0115,"hi":0.0168},
{"t":"2010-04-17T23:40","v":0.0231,"lo":0.0196,"hi":0.0249},
{"t":"2010-04-18T00:50","v":0.0226,"lo":0.0191,"hi":0.0244},
{"t":"2010-04-18T01:45","v":0.0213,"lo":0.0178,"hi":0.0231},
{"t":"2010-04-18T02:40","v":0.0217,"lo":0.0182,"hi":0.0235},
{"t":"2010-04-18T03:35","v":0.0210,"lo":0.0175,"hi":0.0228},
{"t":"2010-04-18T04:45","v":0.0200,"lo":0.0165,"hi":0.0218},
{"t":"2010-04-18T05:40","v":0.0195,"lo":0.0160,"hi":0.0213},
{"t":"2010-04-18T06:30","v":0.0222,"lo":0.0187,"hi":0.0240},
{"t":"2010-04-18T07:15","v":0.0200,"lo":0.0165,"hi":0.0218},
{"t":"2010-04-18T08:25","v":0.0240,"lo":0.0205,"hi":0.0258},
{"t":"2010-04-18T09:20","v":0.0200,"lo":0.0165,"hi":0.0218},
{"t":"2010-04-18T10:15","v":0.0200,"lo":0.0165,"hi":0.0218},
{"t":"2010-04-18T11:25","v":0.0105,"lo":0.0070,"hi":0.0123},
{"t":"2010-04-18T12:40","v":0.0177,"lo":0.0142,"hi":0.0195},
{"t":"2010-04-18T13:50","v":0.0150,"lo":0.0115,"hi":0.0168},
{"t":"2010-04-18T15:30","v":0.0123,"lo":0.0088,"hi":0.0141},
{"t":"2010-04-18T16:35","v":0.0186,"lo":0.0151,"hi":0.0204},
{"t":"2010-04-18T17:45","v":0.0186,"lo":0.0151,"hi":0.0204},
{"t":"2010-04-18T19:00","v":0.0191,"lo":0.0156,"hi":0.0209},
{"t":"2010-04-18T19:35","v":0.0200,"lo":0.0165,"hi":0.0218},
{"t":"2010-04-18T20:30","v":0.0177,"lo":0.0142,"hi":0.0195},
{"t":"2010-04-18T21:40","v":0.0191,"lo":0.0156,"hi":0.0209},
{"t":"2010-04-18T22:35","v":0.0208,"lo":0.0173,"hi":0.0226},
{"t":"2010-04-18T23:30","v":0.0208,"lo":0.0173,"hi":0.0226},
{"t":"2010-04-19T00:40","v":0.0195,"lo":0.0160,"hi":0.0213},
{"t":"2010-04-19T01:55","v":0.0182,"lo":0.0147,"hi":0.0200},
{"t":"2010-04-19T03:05","v":0.0182,"lo":0.0147,"hi":0.0200},
{"t":"2010-04-19T04:20","v":0.0186,"lo":0.0151,"hi":0.0204},
{"t":"2010-04-19T05:30","v":0.0146,"lo":0.0111,"hi":0.0164},
{"t":"2010-04-19T06:45","v":0.0137,"lo":0.0102,"hi":0.0155},
{"t":"2010-04-19T07:40","v":0.0150,"lo":0.0115,"hi":0.0168},
{"t":"2010-04-19T08:35","v":0.0249,"lo":0.0214,"hi":0.0267},
{"t":"2010-04-19T09:40","v":0.0208,"lo":0.0173,"hi":0.0226},
{"t":"2010-04-19T10:40","v":0.0226,"lo":0.0191,"hi":0.0244},
{"t":"2010-04-19T11:35","v":0.0173,"lo":0.0138,"hi":0.0191},
{"t":"2010-04-19T12:45","v":0.0173,"lo":0.0138,"hi":0.0191},
{"t":"2010-04-19T13:40","v":0.0173,"lo":0.0138,"hi":0.0191},
{"t":"2010-04-19T14:35","v":0.0182,"lo":0.0147,"hi":0.0200},
{"t":"2010-04-19T15:30","v":0.0168,"lo":0.0133,"hi":0.0186},
{"t":"2010-04-19T16:25","v":0.0168,"lo":0.0133,"hi":0.0186},
{"t":"2010-04-19T17:35","v":0.0173,"lo":0.0138,"hi":0.0191},
{"t":"2010-04-19T18:30","v":0.0164,"lo":0.0129,"hi":0.0182},
{"t":"2010-04-19T19:25","v":0.0168,"lo":0.0133,"hi":0.0186},
{"t":"2010-04-19T20:35","v":0.0200,"lo":0.0165,"hi":0.0218},
{"t":"2010-04-19T21:30","v":0.0200,"lo":0.0165,"hi":0.0218},
{"t":"2010-04-19T22:35","v":0.0150,"lo":0.0115,"hi":0.0168},
{"t":"2010-04-19T23:30","v":0.0119,"lo":0.0084,"hi":0.0137},
{"t":"2010-04-20T00:30","v":0.0191,"lo":0.0156,"hi":0.0209},
{"t":"2010-04-20T01:35","v":0.0235,"lo":0.0200,"hi":0.0253},
{"t":"2010-04-20T02:30","v":0.0217,"lo":0.0182,"hi":0.0235}
]
},
"vconcat": [
{
  "width": 536, "height": 167,
  "encoding": {
    "x": {"field": "t", "type": "temporal",
      "scale": {"domain": [{"year":2010,"month":4,"date":16,"hours":1,"minutes":30},{"year":2010,"month":4,"date":20,"hours":2,"minutes":30}]},
      "axis": {"title": null, "format": "%d.%m.%Y", "labelFlush": false, "labelOverlap": false,
        "values": [{"year":2010,"month":4,"date":17},{"year":2010,"month":4,"date":18},{"year":2010,"month":4,"date":19},{"year":2010,"month":4,"date":20}]}},
    "y": {"type": "quantitative", "scale": {"domain": [1.6, 1.9], "nice": false, "zero": false},
      "axis": {"title": "Real part m [-]", "values": [1.6,1.65,1.7,1.75,1.8,1.85,1.9], "format": ".2f"}}
  },
  "layer": [
    {"data": {"name": "bars"}, "mark": {"type": "rect"},
     "encoding": {"x2": {"field": "t2"},
       "y": {"datum": 1.8528, "type": "quantitative"},
       "y2": {"datum": 1.8934},
       "fill": {"field": "kind", "type": "nominal", "scale": {"domain": ["period","event"], "range": ["#d9d9d9","#000000"]}, "legend": null}}},
    {"data": {"name": "m450"}, "mark": {"type": "area", "clip": true, "color": "#7676ff", "stroke": "#5a5aff", "strokeWidth": 0.6},
     "encoding": {"y": {"field": "lo", "type": "quantitative"}, "y2": {"field": "hi"}}},
    {"data": {"name": "m450"}, "mark": {"type": "line", "clip": true, "strokeWidth": 1.8},
     "encoding": {"y": {"field": "v", "type": "quantitative"},
       "color": {"datum": "450 nm", "type": "nominal", "scale": {"domain": ["450 nm","550 nm","700 nm"], "range": ["#0000a0","#00a000","#ff0000"]},
         "legend": {"legendX": 22, "legendY": 13}}}},
    {"data": {"name": "m550"}, "mark": {"type": "area", "clip": true, "color": "#3cec3c", "stroke": "#20d020", "strokeWidth": 0.6},
     "encoding": {"y": {"field": "lo", "type": "quantitative"}, "y2": {"field": "hi"}}},
    {"data": {"name": "m550"}, "mark": {"type": "line", "clip": true, "strokeWidth": 1.8},
     "encoding": {"y": {"field": "v", "type": "quantitative"},
       "color": {"datum": "550 nm", "type": "nominal", "scale": {"domain": ["450 nm","550 nm","700 nm"], "range": ["#0000a0","#00a000","#ff0000"]},
         "legend": {"legendX": 22, "legendY": 13}}}},
    {"data": {"name": "m700"}, "mark": {"type": "area", "clip": true, "color": "#ff8484", "stroke": "#ff4a4a", "strokeWidth": 0.7},
     "encoding": {"y": {"field": "lo", "type": "quantitative"}, "y2": {"field": "hi"}}},
    {"data": {"name": "m700"}, "mark": {"type": "line", "clip": true, "strokeWidth": 1.8},
     "encoding": {"y": {"field": "v", "type": "quantitative"},
       "color": {"datum": "700 nm", "type": "nominal", "scale": {"domain": ["450 nm","550 nm","700 nm"], "range": ["#0000a0","#00a000","#ff0000"]},
         "legend": {"legendX": 22, "legendY": 13}}}}
  ]
},
{
  "width": 536, "height": 174,
  "encoding": {
    "x": {"field": "t", "type": "temporal",
      "scale": {"domain": [{"year":2010,"month":4,"date":16,"hours":1,"minutes":30},{"year":2010,"month":4,"date":20,"hours":2,"minutes":30}]},
      "axis": {"title": "UTC+1", "format": "%d.%m.%Y", "labelFlush": false, "labelOverlap": false,
        "values": [{"year":2010,"month":4,"date":17},{"year":2010,"month":4,"date":18},{"year":2010,"month":4,"date":19},{"year":2010,"month":4,"date":20}]}},
    "y": {"type": "quantitative", "scale": {"domain": [0.0031, 0.05], "nice": false, "zero": false},
      "axis": {"title": "Imaginary part k [-]", "values": [0.01,0.02,0.03,0.04,0.05], "format": ".2f"}}
  },
  "layer": [
    {"data": {"name": "bars"}, "mark": {"type": "rect"},
     "encoding": {"x2": {"field": "t2"},
       "y": {"datum": 0.0428, "type": "quantitative"},
       "y2": {"datum": 0.0491},
       "fill": {"field": "kind", "type": "nominal", "scale": {"domain": ["period","event"], "range": ["#d9d9d9","#000000"]}, "legend": null}}},
    {"data": {"name": "k450"}, "mark": {"type": "area", "clip": true, "color": "#7676ff", "stroke": "#5a5aff", "strokeWidth": 0.6},
     "encoding": {"y": {"field": "lo", "type": "quantitative"}, "y2": {"field": "hi"}}},
    {"data": {"name": "k450"}, "mark": {"type": "line", "clip": true, "strokeWidth": 1.8},
     "encoding": {"y": {"field": "v", "type": "quantitative"},
       "color": {"datum": "450 nm", "type": "nominal", "scale": {"domain": ["450 nm","550 nm","700 nm"], "range": ["#0000a0","#00a000","#ff0000"]},
         "legend": {"legendX": 18, "legendY": 5}}}},
    {"data": {"name": "k550"}, "mark": {"type": "area", "clip": true, "color": "#3cec3c", "stroke": "#20d020", "strokeWidth": 0.6},
     "encoding": {"y": {"field": "lo", "type": "quantitative"}, "y2": {"field": "hi"}}},
    {"data": {"name": "k550"}, "mark": {"type": "line", "clip": true, "strokeWidth": 1.8},
     "encoding": {"y": {"field": "v", "type": "quantitative"},
       "color": {"datum": "550 nm", "type": "nominal", "scale": {"domain": ["450 nm","550 nm","700 nm"], "range": ["#0000a0","#00a000","#ff0000"]},
         "legend": {"legendX": 18, "legendY": 5}}}},
    {"data": {"name": "k700"}, "mark": {"type": "area", "clip": true, "color": "#ff8484", "stroke": "#ff4a4a", "strokeWidth": 0.7},
     "encoding": {"y": {"field": "lo", "type": "quantitative"}, "y2": {"field": "hi"}}},
    {"data": {"name": "k700"}, "mark": {"type": "line", "clip": true, "strokeWidth": 1.8},
     "encoding": {"y": {"field": "v", "type": "quantitative"},
       "color": {"datum": "700 nm", "type": "nominal", "scale": {"domain": ["450 nm","550 nm","700 nm"], "range": ["#0000a0","#00a000","#ff0000"]},
         "legend": {"legendX": 18, "legendY": 5}}}}
  ]
}
]
}
